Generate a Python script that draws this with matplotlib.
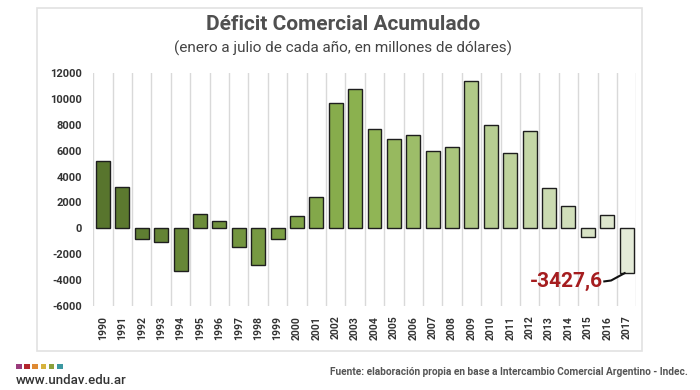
import numpy as np
import matplotlib
matplotlib.use('Agg')
import matplotlib.pyplot as plt
from matplotlib.colors import LinearSegmentedColormap
from matplotlib.patches import Rectangle

# Déficit comercial acumulado enero-julio (millones de USD)
years = [str(y) for y in range(1990, 2018)]
values = [5200, 3200, -850, -1080, -3330, 1100, 550, -1450, -2840, -800,
          930, 2400, 9700, 10750, 7650, 6900, 7200, 6000, 6300, 11400,
          7950, 5800, 7500, 3150, 1750, -650, 1000, -3427.6]
yticks = list(range(-6000, 12001, 2000))
title = 'Déficit Comercial Acumulado'
subtitle = '(enero a julio de cada año, en millones de dólares)'
note = '-3427,6'
source = 'Fuente: elaboración propia en base a Intercambio Comercial Argentino - Indec.'
logo_colors = ['#9a3b7c', '#b3262c', '#df8a33', '#d6b23c', '#8ba03b', '#3b98a1']

plt.rcParams['font.family'] = ['Roboto', 'DejaVu Sans']

fig = plt.figure(figsize=(7, 3.9), dpi=100, facecolor='white')

# marco gris del panel
fig.patches.append(Rectangle((37/700, 1-351/390), 605/700, 343/390, transform=fig.transFigure,
                             facecolor='white', edgecolor='#e2e2e2', lw=1.2, zorder=-5))

ax = fig.add_axes([93.3/700, 1-306/390, 543/700, 233/390])
ax.set_facecolor('none')
ax.set_zorder(2)

cmap = LinearSegmentedColormap.from_list('g', ['#58752d', '#8db350', '#e4ebd8'])
x = np.arange(len(years))
cols = [cmap(i/(len(years)-1)) for i in x]
ax.bar(x, values, width=0.72, color=cols, edgecolor='#1e1e1e', linewidth=1.0, zorder=3)

ax.set_xlim(-0.5, len(years)-0.5)
ax.set_ylim(-6000, 12000)
ax.set_xticks(x)
ax.set_xticklabels(years, rotation=90, fontsize=7.5, fontweight='bold', color='#333333')
ax.set_xticks(np.arange(len(years)+1)-0.5, minor=True)
ax.set_yticks(yticks)
ax.set_yticklabels([str(v) for v in yticks], fontsize=8, fontweight='bold', color='#333333')
ax.tick_params(axis='both', which='both', length=0)
ax.tick_params(axis='y', pad=8)
ax.tick_params(axis='x', pad=7)
ax.grid(axis='x', which='minor', color='#d9d9d9', lw=1, zorder=0)
for s in ax.spines.values():
    s.set_visible(False)

# anotación del último valor
ax.plot([25.85, 26.2, 26.9], [-4100, -4030, -3460], color='#111111', lw=1.5, zorder=4)
ax.text(25.8, -4100, note, ha='right', va='center', fontsize=15, fontweight='bold',
        color='#a51d1f', zorder=5)

fig.text(0.49, 1-24/390, title, ha='center', va='center', fontsize=15, fontweight='bold',
         color='#505050')
fig.text(0.49, 1-48/390, subtitle, ha='center', va='center', fontsize=11, color='#444444')

fig.text(688/700, 1-372/390, source, ha='right', va='center', fontsize=7.3, fontweight='bold',
         color='#555555')

for i, c in enumerate(logo_colors):
    fig.patches.append(Rectangle(((16 + i*8.2)/700, 1-369/390), 5.5/700, 5.5/390,
                                 transform=fig.transFigure, facecolor=c, edgecolor='none'))
fig.text(16/700, 1-384/390, 'www.undav.edu.ar', ha='left', va='baseline', fontsize=9.5,
         color='#333333', fontweight='medium')

fig.savefig('out.png', dpi=100, facecolor='white')
